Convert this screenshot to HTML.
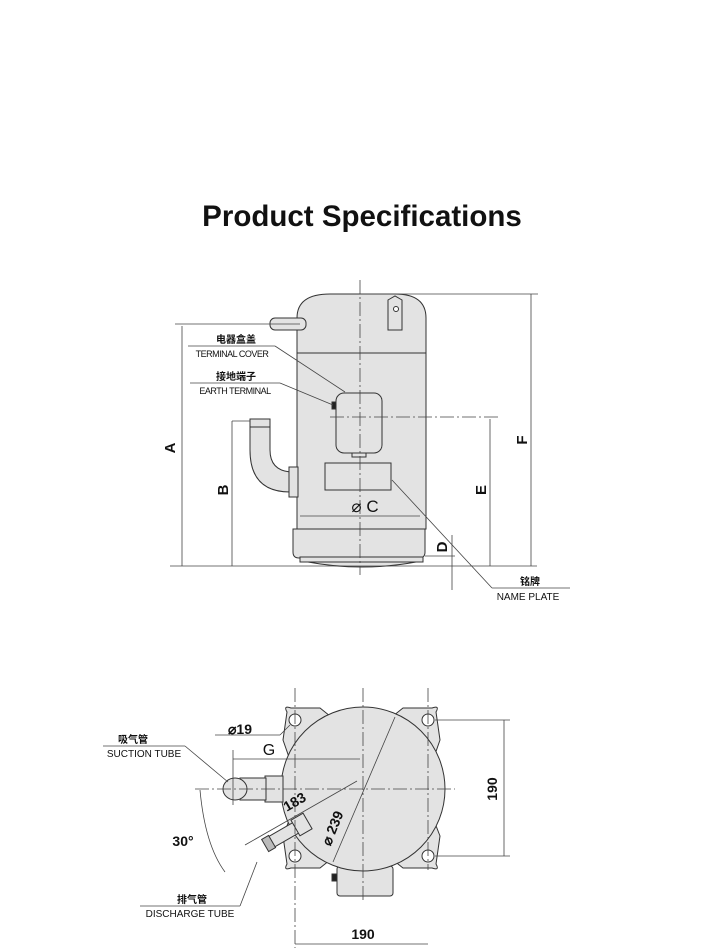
<!DOCTYPE html>
<html><head><meta charset="utf-8"><style>
html,body{margin:0;padding:0;background:#fff}
svg{display:block}
text{font-family:"Liberation Sans","Noto Sans CJK SC",sans-serif;fill:#111}
</style></head><body>
<svg width="728" height="949" viewBox="0 0 728 949" xmlns="http://www.w3.org/2000/svg">
<text x="362" y="226" text-anchor="middle" font-size="29.5" font-weight="bold">Product Specifications</text>

<g stroke="#333" stroke-width="1" fill="#e3e3e3">
<path d="M297,353 L297,318 Q297,294 330,294 L395,294 Q426,294 426,318 L426,353 Z"/>
<rect x="297" y="353" width="129" height="176"/>
<path d="M293,529 L425,529 L425,552 Q425,558 419,558 L299,558 Q293,558 293,552 Z"/>
<rect x="300" y="557" width="123" height="5"/>
<path d="M308,562 Q362,572 416,562 Z"/>
<rect x="270" y="318" width="36" height="12" rx="5"/>
<path d="M388,300 L395,296 L402,300 L402,330 L388,330 Z"/>
<circle cx="396" cy="309" r="2.5" fill="#fff"/>
<rect x="336" y="393" width="46" height="60" rx="8"/>
<rect x="352" y="453" width="14" height="4"/>
<rect x="332" y="402" width="4" height="7" fill="#222"/>
<rect x="325" y="463" width="66" height="27"/>
<path d="M250,421 L270,421 L270,450 Q270,470 290,472 L290,492 Q250,492 250,450 Z"/>
<rect x="250" y="419" width="20" height="8"/>
<rect x="289" y="467" width="9" height="30"/>
</g>
<g stroke="#444" stroke-width="0.8" fill="none">
<line x1="360" y1="280" x2="360" y2="575" stroke-dasharray="14,3,2,3"/>
<line x1="330" y1="417" x2="500" y2="417" stroke-dasharray="14,3,2,3"/>
<line x1="170" y1="566" x2="537" y2="566"/>
<line x1="175" y1="324" x2="300" y2="324"/>
<line x1="182" y1="326" x2="182" y2="566"/>
<line x1="232" y1="421" x2="232" y2="566"/>
<line x1="232" y1="421" x2="250" y2="421"/>
<line x1="490" y1="419" x2="490" y2="566"/>
<line x1="360" y1="294" x2="538" y2="294"/>
<line x1="531" y1="294" x2="531" y2="566"/>
<line x1="452" y1="535" x2="452" y2="590"/>
<line x1="425" y1="556" x2="455" y2="556"/>
<line x1="300" y1="516" x2="420" y2="516"/>
<line x1="188" y1="346" x2="275" y2="346"/><line x1="275" y1="346" x2="345" y2="392"/>
<line x1="190" y1="383" x2="280" y2="383"/><line x1="280" y1="383" x2="333" y2="405"/>
<line x1="392" y1="480" x2="492" y2="588"/><line x1="492" y1="588" x2="570" y2="588"/>
</g>
<g font-size="15" font-weight="bold">
<text x="175" y="448" transform="rotate(-90 175 448)" text-anchor="middle">A</text>
<text x="228" y="490" transform="rotate(-90 228 490)" text-anchor="middle">B</text>
<text x="486" y="490" transform="rotate(-90 486 490)" text-anchor="middle">E</text>
<text x="527" y="440" transform="rotate(-90 527 440)" text-anchor="middle">F</text>
<text x="447" y="547" transform="rotate(-90 447 547)" text-anchor="middle">D</text>
</g>
<text x="365" y="512" font-size="17" text-anchor="middle">⌀ C</text>
<text x="236" y="343" font-size="10" font-weight="bold" text-anchor="middle">电器盒盖</text>
<text x="232" y="357" font-size="9" text-anchor="middle" letter-spacing="-0.5">TERMINAL COVER</text>
<text x="236" y="380" font-size="10" font-weight="bold" text-anchor="middle">接地端子</text>
<text x="235" y="394" font-size="9" text-anchor="middle" letter-spacing="-0.5">EARTH TERMINAL</text>
<text x="530" y="585" font-size="10" font-weight="bold" text-anchor="middle">铭牌</text>
<text x="528" y="600" font-size="10" text-anchor="middle">NAME PLATE</text>

<g stroke="#333" stroke-width="1" fill="#e3e3e3">
<path d="M287,712 Q283,705 291,708 L320,708 L330,716 L290,760 L283,740 Z"/>
<path d="M436,712 Q440,705 432,708 L403,708 L393,716 L433,760 L440,740 Z"/>
<path d="M287,864 Q283,871 291,868 L320,868 L330,860 L290,818 L283,836 Z"/>
<path d="M436,864 Q440,871 432,868 L403,868 L393,860 L433,818 L440,836 Z"/>
<rect x="337" y="866" width="56" height="30" rx="3"/>
<rect x="332" y="874" width="5" height="7" fill="#222"/>
<circle cx="363" cy="789" r="82"/>
<rect x="265" y="776" width="18" height="26"/>
<rect x="240" y="778" width="26" height="22"/>
<ellipse cx="235" cy="789" rx="12" ry="11"/>
<g transform="rotate(-30 363 789)">
<rect x="255" y="783" width="40" height="12"/>
<rect x="285" y="780" width="14" height="18"/>
<rect x="250" y="782" width="8" height="14" fill="#bbb"/>
</g>
<circle cx="295" cy="720" r="6" fill="#fff"/><circle cx="428" cy="720" r="6" fill="#fff"/>
<circle cx="295" cy="856" r="6" fill="#fff"/><circle cx="428" cy="856" r="6" fill="#fff"/>
</g>
<g stroke="#444" stroke-width="0.8" fill="none">
<line x1="363" y1="688" x2="363" y2="900" stroke-dasharray="14,3,2,3"/>
<line x1="195" y1="789" x2="455" y2="789" stroke-dasharray="14,3,2,3"/>
<line x1="295" y1="688" x2="295" y2="948" stroke-dasharray="14,3,2,3"/>
<line x1="428" y1="688" x2="428" y2="870" stroke-dasharray="14,3,2,3"/>
<line x1="435" y1="720" x2="510" y2="720"/><line x1="435" y1="856" x2="510" y2="856"/>
<line x1="504" y1="720" x2="504" y2="856"/>
<line x1="295" y1="944" x2="428" y2="944"/>
<line x1="233" y1="750" x2="233" y2="805"/>
<line x1="233" y1="759" x2="360" y2="759"/>
<line x1="245" y1="845" x2="357" y2="781"/>
<line x1="333" y1="862" x2="395" y2="717"/>
<path d="M200,790 Q205,845 225,872"/>
<line x1="215" y1="735" x2="280" y2="735"/><line x1="280" y1="735" x2="290" y2="725"/>
<line x1="103" y1="746" x2="185" y2="746"/><line x1="185" y1="746" x2="228" y2="782"/>
<line x1="140" y1="906" x2="240" y2="906"/><line x1="240" y1="906" x2="257" y2="862"/>
</g>
<text x="240" y="734" font-size="14" font-weight="bold" text-anchor="middle">⌀19</text>
<text x="269" y="755" font-size="16" text-anchor="middle">G</text>
<text x="133" y="743" font-size="10" font-weight="bold" text-anchor="middle">吸气管</text>
<text x="144" y="757" font-size="10" text-anchor="middle">SUCTION TUBE</text>
<text x="192" y="903" font-size="10" font-weight="bold" text-anchor="middle">排气管</text>
<text x="190" y="917" font-size="10" text-anchor="middle">DISCHARGE TUBE</text>
<text x="183" y="846" font-size="14" font-weight="bold" text-anchor="middle">30°</text>
<text x="297" y="806" font-size="14" font-weight="bold" text-anchor="middle" transform="rotate(-30 297 806)">183</text>
<text x="337" y="830" font-size="14" font-weight="bold" text-anchor="middle" transform="rotate(-68 337 830)">⌀ 239</text>
<text x="497" y="789" font-size="14" font-weight="bold" text-anchor="middle" transform="rotate(-90 497 789)">190</text>
<text x="363" y="939" font-size="14" font-weight="bold" text-anchor="middle">190</text>
</svg>
</body></html>
